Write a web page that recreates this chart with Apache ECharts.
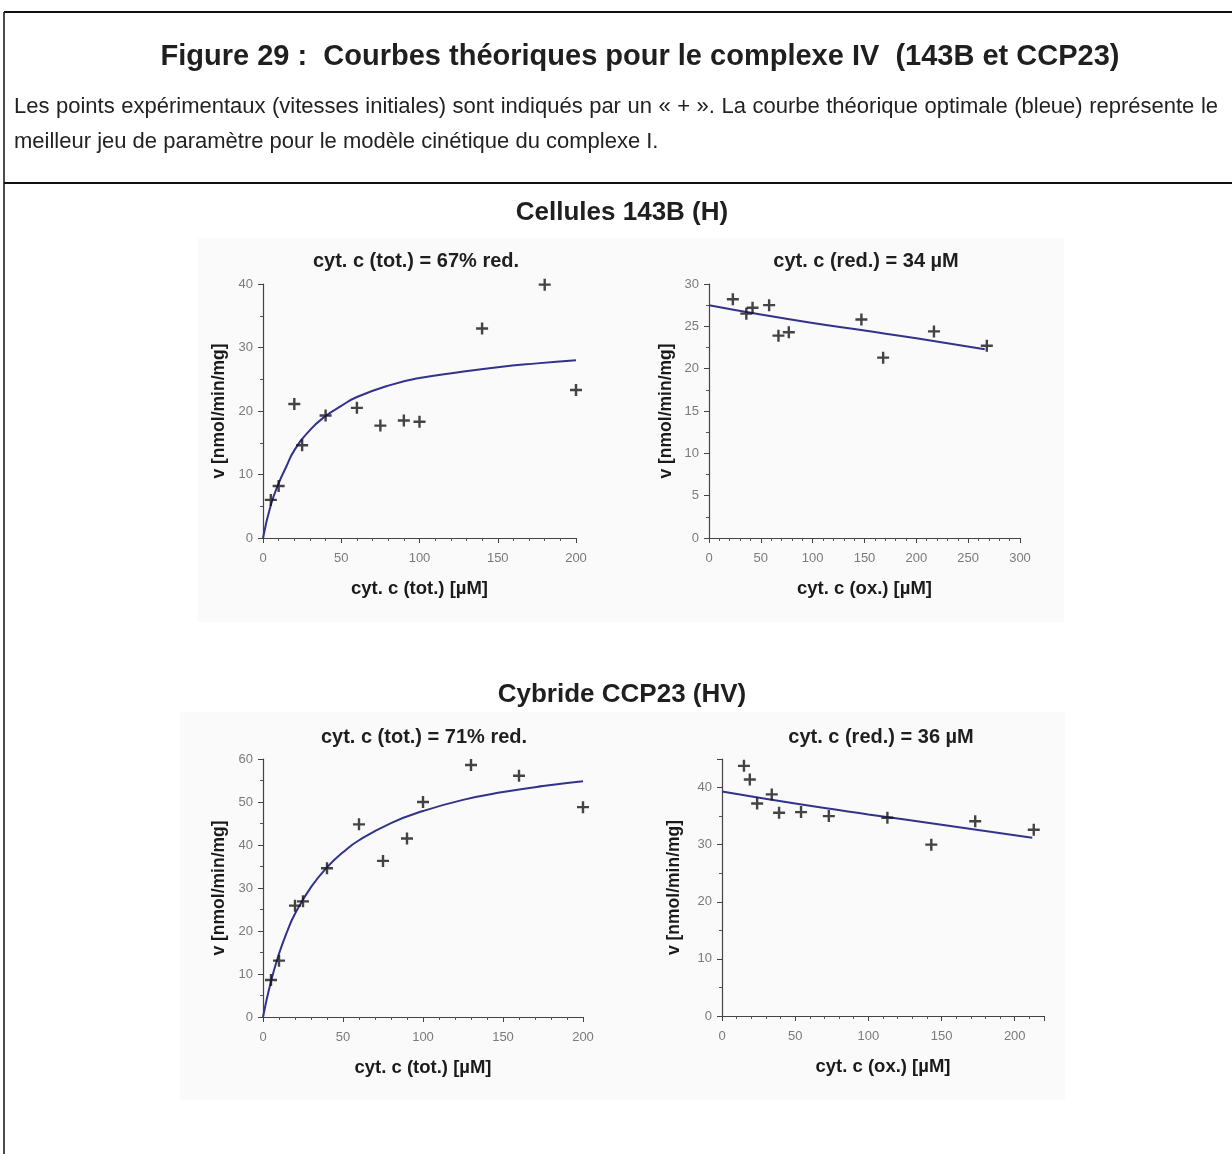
<!DOCTYPE html>
<html>
<head>
<meta charset="utf-8">
<script src="https://cdn.jsdelivr.net/npm/echarts@6/dist/echarts.min.js"></script>
<style>
html,body{margin:0;padding:0;background:#fff;}
#c{width:1232px;height:1154px;}
</style>
</head>
<body>
<div id="c"></div>
<script>
// ---- Data: Cellules 143B (H) ----
const p1X = [5, 10, 20, 25, 40, 60, 75, 90, 100, 140, 180, 200];
const p1Y = [6.0, 8.2, 21.1, 14.6, 19.3, 20.5, 17.7, 18.5, 18.3, 33.0, 39.9, 23.3];
const c1X = [0, 5, 10, 15, 20, 30, 40, 50, 60, 80, 100, 125, 150, 175, 200];
const c1Y = [0, 5.2, 8.6, 11.3, 13.8, 17.0, 19.2, 20.8, 22.2, 24.0, 25.2, 26.1, 26.9, 27.5, 28.0];

const p2X = [23, 36, 42, 58, 67, 77, 147, 168, 217, 268];
const p2Y = [28.2, 26.5, 27.2, 27.5, 23.9, 24.3, 25.8, 21.3, 24.4, 22.7];
const c2X = [0, 50, 100, 150, 200, 266];
const c2Y = [27.5, 26.4, 25.4, 24.5, 23.6, 22.3];

// ---- Data: Cybride CCP23 (HV) ----
const p3X = [5, 10, 20, 25, 40, 60, 75, 90, 100, 130, 160, 200];
const p3Y = [8.6, 13.1, 25.9, 26.9, 34.6, 44.8, 36.3, 41.5, 50.0, 58.6, 56.1, 48.8];
const c3X = [0, 5, 10, 15, 20, 30, 40, 50, 60, 80, 100, 125, 150, 175, 200];
const c3Y = [0, 8.3, 14.7, 19.8, 24.0, 30.2, 34.8, 38.3, 41.1, 45.1, 47.9, 50.5, 52.3, 53.7, 54.8];

const p4X = [15, 19, 24, 34, 39, 54, 73, 113, 143, 173, 213];
const p4Y = [43.8, 41.4, 37.2, 38.8, 35.6, 35.7, 35.0, 34.7, 30.0, 34.1, 32.6];
const c4X = [0, 50, 100, 150, 212];
const c4Y = [39.3, 37.2, 35.3, 33.5, 31.2];

// ---- Texts ----
const figTitle = "Figure 29 :  Courbes théoriques pour le complexe IV  (143B et CCP23)";
const para1 = "Les points expérimentaux (vitesses initiales) sont indiqués par un « + ». La courbe théorique optimale (bleue) représente le";
const para2 = "meilleur jeu de paramètre pour le modèle cinétique du complexe I.";
const groupTitles = ["Cellules 143B (H)", "Cybride CCP23 (HV)"];
const panelTitles = ["cyt. c (tot.) = 67% red.", "cyt. c (red.) = 34 µM", "cyt. c (tot.) = 71% red.", "cyt. c (red.) = 36 µM"];
const xNames = ["cyt. c (tot.) [µM]", "cyt. c (ox.) [µM]", "cyt. c (tot.) [µM]", "cyt. c (ox.) [µM]"];
const yName = "v [nmol/min/mg]";

const FONT = '"Liberation Sans", Arial, Helvetica, sans-serif';
const zip = (a, b) => a.map((v, i) => [v, b[i]]);

const chart = echarts.init(document.getElementById('c'), null, {renderer: 'canvas'});

const grids = [
  {left: 263, top: 284, width: 313, height: 254},
  {left: 709, top: 284, width: 311, height: 254},
  {left: 263, top: 759, width: 320, height: 258},
  {left: 722, top: 759, width: 322, height: 257}
];
const xRanges = [[0, 200], [0, 300], [0, 200], [0, 220]];
const yRanges = [[0, 40, 10], [0, 30, 5], [0, 60, 10], [0, 45, 10]];
const yGaps = [35, 34, 35, 39];

const axisLine = {show: true, lineStyle: {color: '#444', width: 1.2}};
const labelStyle = {color: '#7a7a7a', fontSize: 13, fontFamily: FONT};

const xAxes = xRanges.map((r, i) => ({
  gridIndex: i, type: 'value', min: r[0], max: r[1], interval: 50,
  axisLine: axisLine,
  axisTick: {show: true, inside: false, length: 5, lineStyle: {color: '#444'}},
  minorTick: {show: true, splitNumber: 5, length: 3, lineStyle: {color: '#555'}},
  splitLine: {show: false},
  axisLabel: Object.assign({margin: 14, showMaxLabel: i !== 3}, labelStyle),
  name: xNames[i], nameLocation: 'middle', nameGap: 41,
  nameTextStyle: {color: '#1a1a1a', fontSize: 18.5, fontWeight: 'bold', fontFamily: FONT}
}));
const yAxes = yRanges.map((r, i) => ({
  gridIndex: i, type: 'value', min: r[0], max: r[1], interval: r[2],
  axisLine: axisLine,
  axisTick: {show: true, inside: false, length: 5, lineStyle: {color: '#444'}},
  minorTick: {show: true, splitNumber: 2, length: 3, lineStyle: {color: '#555'}},
  splitLine: {show: false},
  axisLabel: Object.assign({margin: 10, showMaxLabel: i !== 3}, labelStyle),
  name: yName, nameLocation: 'middle', nameGap: yGaps[i],
  nameTextStyle: {color: '#1a1a1a', fontSize: 17.5, fontWeight: 'bold', fontFamily: FONT}
}));

const plus = 'path://M4,0H6V4H10V6H6V10H4V6H0V4H4Z';
const pts = [zip(p1X, p1Y), zip(p2X, p2Y), zip(p3X, p3Y), zip(p4X, p4Y)];
const curves = [zip(c1X, c1Y), zip(c2X, c2Y), zip(c3X, c3Y), zip(c4X, c4Y)];
const series = [];
for (let i = 0; i < 4; i++) {
  series.push({
    type: 'line', xAxisIndex: i, yAxisIndex: i, data: curves[i],
    smooth: true, showSymbol: false, symbol: 'none',
    lineStyle: {color: '#32328c', width: 2}, z: 2
  });
  series.push({
    type: 'scatter', xAxisIndex: i, yAxisIndex: i, data: pts[i],
    symbol: plus, symbolSize: 12, itemStyle: {color: '#151515'}, z: 3
  });
}

function txt(text, x, y, size, weight, color, align, rot) {
  return {
    type: 'text', x: x, y: y, rotation: rot || 0, z: 10,
    style: {text: text, fill: color || '#111', fontSize: size, fontWeight: weight || 'normal',
            fontFamily: FONT, align: align || 'center', verticalAlign: 'middle'}
  };
}

// Justified first paragraph line (words spread between left and right margins)
const PARA_SIZE = 22, PARA_LEFT = 14, PARA_RIGHT = 1218;
const mctx = document.createElement('canvas').getContext('2d');
mctx.font = PARA_SIZE + 'px ' + FONT;
const words = para1.split(' ');
const wW = words.map(w => mctx.measureText(w).width);
const totalW = wW.reduce((a, b) => a + b, 0);
const gapW = (PARA_RIGHT - PARA_LEFT - totalW) / (words.length - 1);
const paraGraphics = [];
let cx = PARA_LEFT;
words.forEach((w, i) => {
  paraGraphics.push(txt(w, cx, 107, PARA_SIZE, 'normal', '#222', 'left'));
  cx += wW[i] + gapW;
});

const graphics = [
  {type: 'rect', shape: {x: 198, y: 238, width: 866, height: 384}, style: {fill: '#fafafa'}, z: -10},
  {type: 'rect', shape: {x: 180, y: 712, width: 885, height: 388}, style: {fill: '#fafafa'}, z: -10},
  {type: 'line', shape: {x1: 4, y1: 12, x2: 1232, y2: 12}, style: {stroke: '#111', lineWidth: 2}},
  {type: 'line', shape: {x1: 4, y1: 12, x2: 4, y2: 1154}, style: {stroke: '#111', lineWidth: 1.5}},
  {type: 'line', shape: {x1: 4, y1: 183, x2: 1232, y2: 183}, style: {stroke: '#111', lineWidth: 2}},
  txt(figTitle, 640, 57, 29, 'bold', '#1f1f1f'),
  txt(para2, PARA_LEFT, 142, PARA_SIZE, 'normal', '#222', 'left'),
  txt(groupTitles[0], 622, 213, 26, 'bold', '#1f1f1f'),
  txt(groupTitles[1], 622, 695, 26, 'bold', '#1f1f1f'),
  txt(panelTitles[0], 416, 261, 20, 'bold', '#1f1f1f'),
  txt(panelTitles[1], 866, 261, 20, 'bold', '#1f1f1f'),
  txt(panelTitles[2], 424, 737, 20, 'bold', '#1f1f1f'),
  txt(panelTitles[3], 881, 737, 20, 'bold', '#1f1f1f')
].concat(paraGraphics);

chart.setOption({
  animation: false,
  backgroundColor: '#ffffff',
  grid: grids,
  xAxis: xAxes,
  yAxis: yAxes,
  series: series,
  graphic: graphics
});
</script>
</body>
</html>
